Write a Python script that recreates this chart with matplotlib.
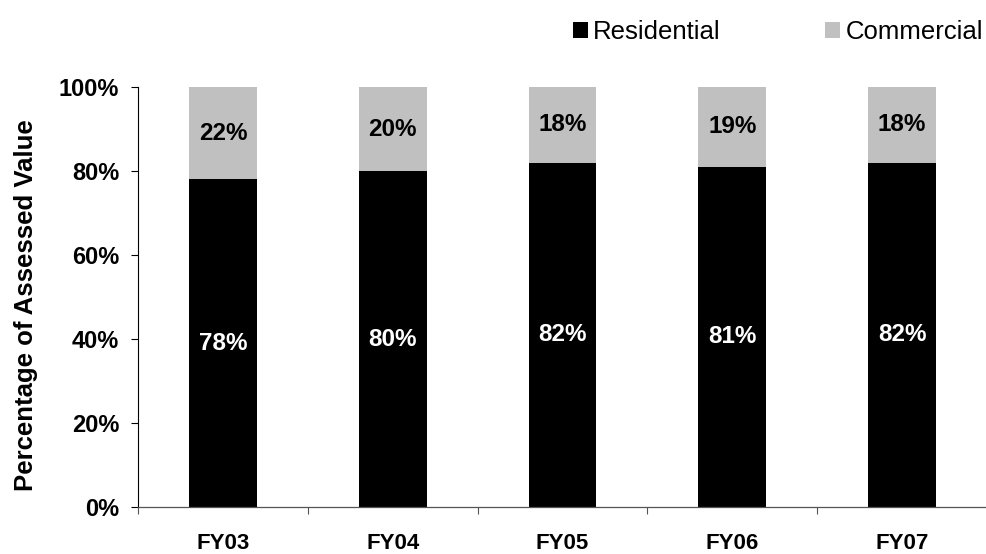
import matplotlib.pyplot as plt
import numpy as np

years = ['FY03', 'FY04', 'FY05', 'FY06', 'FY07']
residential = [78, 80, 82, 81, 82]
commercial = [22, 20, 18, 19, 18]
y_ticks = [0, 20, 40, 60, 80, 100]

plt.rcParams['font.family'] = ['Liberation Sans', 'DejaVu Sans']

fig = plt.figure(figsize=(9.87, 5.54), dpi=100)
ax = fig.add_axes([138 / 987, 47 / 554, 849 / 987, 420 / 554])

x = np.arange(len(years))
bar_w = 0.4
res_bars = ax.bar(x, residential, bar_w, color='black', label='Residential')
com_bars = ax.bar(x, commercial, bar_w, bottom=residential, color='#c0c0c0', label='Commercial')

for i in range(len(years)):
    ax.text(x[i], residential[i] / 2, f'{residential[i]}%', ha='center', va='center',
            color='white', fontsize=17.5, fontweight='bold')
    ax.text(x[i], residential[i] + commercial[i] / 2, f'{commercial[i]}%', ha='center',
            va='center', color='black', fontsize=17.5, fontweight='bold')

ax.set_xlim(-0.5, len(years) - 0.5)
ax.set_ylim(0, 100)

ax.set_yticks(y_ticks)
ax.set_yticklabels([f'{v}%' for v in y_ticks], fontsize=17, fontweight='bold')
ax.tick_params(axis='y', length=5, width=0.8, pad=8.5)

# category names at the centres, tick marks between categories
ax.set_xticks(x)
ax.set_xticklabels(years, fontsize=16, fontweight='bold')
ax.set_xticks(np.arange(len(years) + 1) - 0.5, minor=True)
ax.tick_params(axis='x', which='major', length=0, pad=19)
ax.tick_params(axis='x', which='minor', length=5, width=0.8, color='#555555')

for side in ['top', 'right']:
    ax.spines[side].set_visible(False)
ax.spines['left'].set_linewidth(0.8)
ax.spines['bottom'].set_linewidth(0.9)
ax.spines['bottom'].set_color('#555555')

ax.set_ylabel('Percentage of Assessed Value', fontsize=18.5, fontweight='bold')
ax.yaxis.set_label_coords(-0.118, 0.481)

fig.legend(handles=[res_bars, com_bars], loc='upper right', bbox_to_anchor=(1.014, 0.996),
           ncol=2, frameon=False, fontsize=18.5, handlelength=0.6, handleheight=0.6,
           handletextpad=0.2, columnspacing=4.05, borderaxespad=0.3)

fig.savefig('out.png', dpi=100)
